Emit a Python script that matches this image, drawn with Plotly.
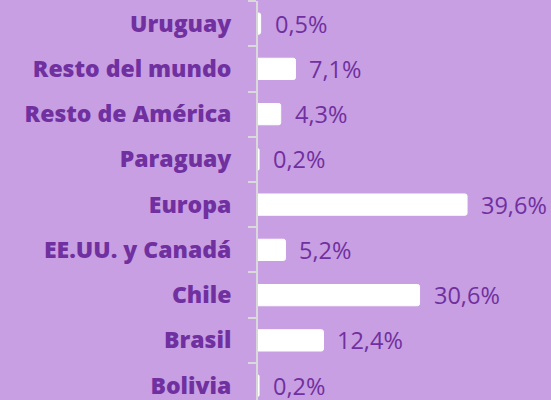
import plotly.graph_objects as go

categories = ["Bolivia", "Brasil", "Chile", "EE.UU. y Canadá", "Europa",
              "Paraguay", "Resto de América", "Resto del mundo", "Uruguay"]
values = [0.2, 12.4, 30.6, 5.2, 39.6, 0.2, 4.3, 7.1, 0.5]
labels = ["0,2%", "12,4%", "30,6%", "5,2%", "39,6%", "0,2%", "4,3%", "7,1%", "0,5%"]

BG = "#C89FE2"
PURPLE = "#7030A0"
AXIS = "#D9D9D9"

fig = go.Figure()
fig.add_trace(go.Bar(
    x=values, y=categories, orientation="h",
    marker=dict(color="white", line=dict(color="white", width=1)),
    width=0.47, hoverinfo="skip",
))

for c, v, t in zip(categories, values, labels):
    fig.add_annotation(x=v, y=c, text=t, showarrow=False, xanchor="left",
                       yanchor="middle", xshift=12,
                       font=dict(family="Open Sans", size=23.5, color=PURPLE))

fig.update_layout(
    width=551, height=400,
    paper_bgcolor=BG, plot_bgcolor=BG,
    margin=dict(l=258, r=0, t=1, b=0),
    showlegend=False,
    barcornerradius=2,
    xaxis=dict(range=[0, 55.5], visible=False, fixedrange=True),
    yaxis=dict(
        type="category", categoryorder="array", categoryarray=categories,
        range=[-0.318, 8.5], tickson="boundaries", ticks="outside",
        ticklen=8, tickwidth=2, tickcolor=AXIS,
        showline=True, linecolor=AXIS, linewidth=2,
        showgrid=False, ticklabelstandoff=20,
        tickfont=dict(family="Open Sans", size=23, color=PURPLE, weight=800),
    ),
)

fig.write_html("out.html", config={"displayModeBar": False},
               post_script="document.body.style.margin='0';document.body.style.overflow='hidden';")
